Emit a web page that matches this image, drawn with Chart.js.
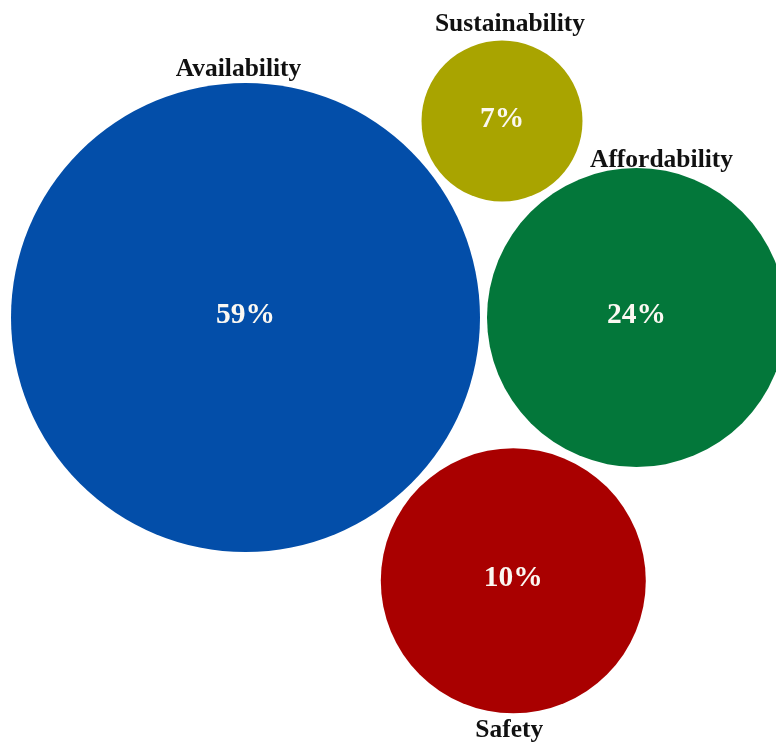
<!DOCTYPE html>
<html>
<head>
<meta charset="utf-8">
<title>Energy security dimensions</title>
<script src="https://cdn.jsdelivr.net/npm/chart.js@4/dist/chart.umd.min.js"></script>
<style>
  html, body { margin: 0; padding: 0; background: #ffffff; }
  #wrap { width: 776px; height: 742px; position: relative; }
</style>
</head>
<body>
<div id="wrap"><canvas id="c" width="776" height="742"></canvas></div>
<script>
// Dimensions and their shares (%)
const categories = ['Availability', 'Sustainability', 'Affordability', 'Safety'];
const shares = [59, 7, 24, 10];

// Bubble layout in plot units (x to the right, y downwards) and bubble size in the same units
const posX = [24.55, 50.2, 63.65, 51.33];
const posY = [31.75, 12.1, 31.75, 58.08];
const bubbleSize = [23.45, 8.05, 14.95, 13.25];

const colors = ['#034ea9', '#a9a400', '#03773a', '#a90000'];

const points = categories.map((name, i) => ({ x: posX[i], y: posY[i], s: bubbleSize[i], r: 0 }));

// Offsets (px) of the category name relative to the bubble's top / bottom edge
const nameOffsets = [
  { side: 'top', dx: -7, dy: -14 },
  { side: 'top', dx: 8, dy: -16 },
  { side: 'top', dx: 25, dy: -8 },
  { side: 'bottom', dx: -4, dy: 17 }
];

const bubbleLabels = {
  id: 'bubbleLabels',
  afterDatasetsDraw(chart) {
    const meta = chart.getDatasetMeta(0);
    const data = chart.data.datasets[0].data;
    const ctx = chart.ctx;
    ctx.save();
    ctx.textAlign = 'center';
    ctx.textBaseline = 'middle';
    meta.data.forEach((el, i) => {
      const r = data[i].r;
      // value inside the bubble
      ctx.fillStyle = '#fbf8f2';
      ctx.font = 'bold 29.5px "Liberation Serif", "Times New Roman", serif';
      ctx.fillText(shares[i] + '%', el.x, el.y - 2);
      // category name outside the bubble
      const o = nameOffsets[i];
      const edgeY = o.side === 'top' ? el.y - r : el.y + r;
      ctx.fillStyle = '#111111';
      ctx.font = 'bold 25.5px "Liberation Serif", "Times New Roman", serif';
      ctx.fillText(categories[i], el.x + o.dx, edgeY + o.dy);
    });
    ctx.restore();
  }
};

const chart = new Chart(document.getElementById('c'), {
  type: 'bubble',
  data: {
    datasets: [{
      data: points,
      backgroundColor: colors,
      borderColor: colors,
      borderWidth: 0,
      clip: false
    }]
  },
  options: {
    responsive: false,
    maintainAspectRatio: false,
    animation: false,
    events: [],
    layout: { padding: 0, autoPadding: false },
    scales: {
      x: { type: 'linear', display: false, min: 0, max: 77.6 },
      y: { type: 'linear', display: false, min: 0, max: 74.2, reverse: true }
    },
    plugins: {
      legend: { display: false },
      tooltip: { enabled: false }
    }
  },
  plugins: [bubbleLabels]
});

// Bubble sizes are given in plot units: convert them to pixel radii through the x scale
const sx = chart.scales.x;
chart.data.datasets[0].data.forEach(p => {
  p.r = Math.abs(sx.getPixelForValue(p.x + p.s) - sx.getPixelForValue(p.x));
});
chart.update();
</script>
</body>
</html>
